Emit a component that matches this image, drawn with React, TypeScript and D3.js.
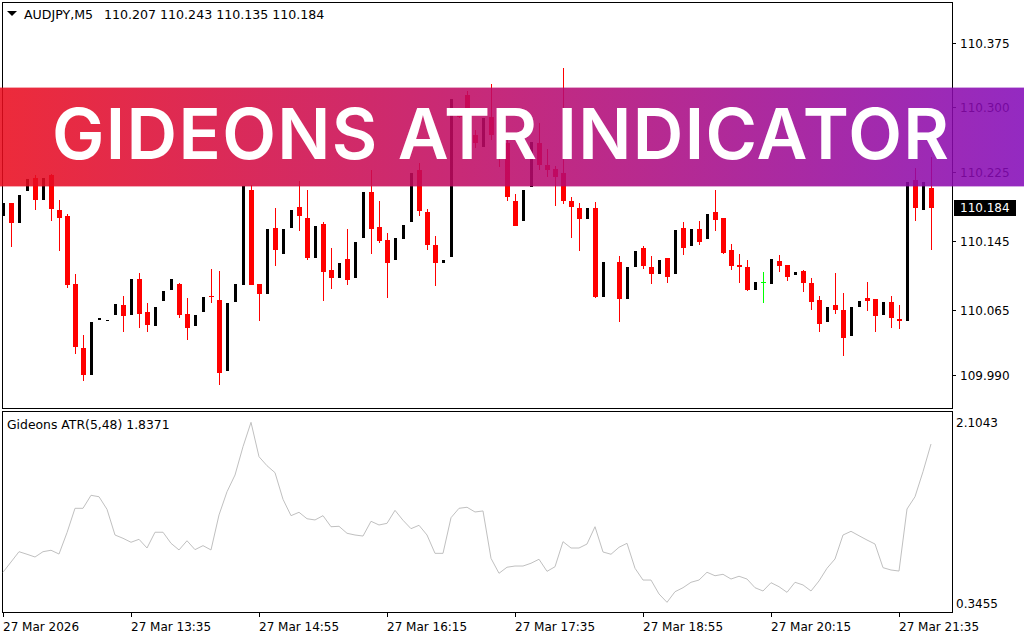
import * as d3 from "d3";

// chart header / labels
const symbolTitle = "AUDJPY,M5";
const indicatorTitle = "Gideons ATR(5,48)";
const atrLast = 1.8371;
const bannerText = "GIDEONS ATR INDICATOR";

const timeLabels = [
  "27 Mar 2026",
  "27 Mar 13:35",
  "27 Mar 14:55",
  "27 Mar 16:15",
  "27 Mar 17:35",
  "27 Mar 18:55",
  "27 Mar 20:15",
  "27 Mar 21:35",
];
const barsPerLabel = 16;
const priceTicks = [110.375, 110.3, 110.225, 110.145, 110.065, 109.99];
const atrTicks = [2.1043, 0.3455];

// OHLC, 5 minute bars (index 76 has no visible bar)
const opens = [
  110.174, 110.189, 110.166, 110.203, 110.218, 110.193, 110.222, 110.181, 110.174, 110.096,
  110.021, 109.99, 110.054, 110.053, 110.059, 110.071, 110.06, 110.101, 110.063, 110.047,
  110.076, 110.088, 110.095, 110.061, 110.047, 110.063, 110.082, 110.077, 109.995, 110.074,
  110.094, 110.204, 110.095, 110.084, 110.16, 110.13, 110.16, 110.185, 110.172, 110.126,
  110.165, 110.112, 110.102, 110.124, 110.102, 110.149, 110.202, 110.162, 110.146, 110.123,
  110.148, 110.167, 110.228, 110.179, 110.141, 110.12, 110.127, 110.295, 110.314, 110.268,
  110.254, 110.289, 110.254, 110.259, 110.192, 110.168, 110.208, 110.259, 110.233, 110.229,
  110.224, 110.192, 110.184, 110.171, 110.184, 110.08, null, 110.121, 110.078, 110.115,
  110.137, 110.115, 110.107, 110.126, 110.107, 110.16, 110.139, 110.159, 110.148, 110.179,
  110.172, 110.135, 110.117, 110.115, 110.089, 110.098, 110.095, 110.122, 110.117, 110.106,
  110.111, 110.097, 110.077, 110.051, 110.071, 110.065, 110.035, 110.069, 110.079, 110.078,
  110.06, 110.075, 110.055, 110.053, 110.216, 110.181, 110.207,
];
const highs = [
  110.189, 110.189, 110.199, 110.217, 110.222, 110.218, 110.223, 110.193, 110.176, 110.107,
  110.036, 110.051, 110.056, 110.054, 110.072, 110.082, 110.101, 110.108, 110.073, 110.069,
  110.087, 110.101, 110.097, 110.079, 110.06, 110.08, 110.113, 110.111, 110.073, 110.095,
  110.209, 110.21, 110.095, 110.159, 110.184, 110.159, 110.181, 110.215, 110.204, 110.163,
  110.167, 110.137, 110.12, 110.159, 110.144, 110.202, 110.228, 110.192, 110.155, 110.149,
  110.164, 110.224, 110.236, 110.182, 110.151, 110.123, 110.31, 110.297, 110.319, 110.274,
  110.288, 110.327, 110.262, 110.262, 110.2, 110.204, 110.26, 110.282, 110.252, 110.232,
  110.346, 110.196, 110.189, 110.184, 110.19, 110.121, null, 110.128, 110.115, 110.134,
  110.139, 110.128, 110.123, 110.126, 110.158, 110.167, 110.159, 110.168, 110.177, 110.204,
  110.172, 110.142, 110.13, 110.123, 110.098, 110.109, 110.124, 110.129, 110.117, 110.109,
  110.112, 110.102, 110.082, 110.069, 110.108, 110.085, 110.069, 110.076, 110.098, 110.078,
  110.075, 110.082, 110.071, 110.214, 110.23, 110.214, 110.243,
];
const lows = [
  110.174, 110.138, 110.166, 110.203, 110.181, 110.193, 110.169, 110.134, 110.091, 110.014,
  109.983, 109.99, 110.054, 110.053, 110.059, 110.04, 110.06, 110.044, 110.04, 110.047,
  110.076, 110.088, 110.056, 110.03, 110.047, 110.063, 110.073, 109.978, 109.995, 110.074,
  110.094, 110.094, 110.052, 110.084, 110.116, 110.13, 110.16, 110.157, 110.123, 110.126,
  110.076, 110.09, 110.102, 110.094, 110.102, 110.149, 110.13, 110.143, 110.079, 110.123,
  110.148, 110.167, 110.174, 110.135, 110.093, 110.12, 110.127, 110.288, 110.292, 110.253,
  110.254, 110.262, 110.231, 110.192, 110.163, 110.168, 110.208, 110.228, 110.219, 110.186,
  110.188, 110.149, 110.134, 110.171, 110.079, 110.08, null, 110.051, 110.078, 110.115,
  110.113, 110.095, 110.107, 110.097, 110.107, 110.129, 110.139, 110.141, 110.148, 110.157,
  110.13, 110.112, 110.097, 110.087, 110.089, 110.073, 110.095, 110.109, 110.099, 110.106,
  110.086, 110.065, 110.04, 110.051, 110.061, 110.012, 110.035, 110.069, 110.064, 110.04,
  110.06, 110.044, 110.043, 110.053, 110.168, 110.181, 110.135,
];
const closes = [
  110.189, 110.166, 110.199, 110.217, 110.193, 110.218, 110.182, 110.172, 110.094, 110.022,
  109.99, 110.051, 110.056, 110.054, 110.072, 110.058, 110.101, 110.061, 110.048, 110.069,
  110.087, 110.101, 110.059, 110.044, 110.06, 110.08, 110.081, 109.992, 110.073, 110.095,
  110.209, 110.094, 110.084, 110.159, 110.135, 110.159, 110.181, 110.174, 110.126, 110.163,
  110.109, 110.102, 110.12, 110.1, 110.144, 110.202, 110.159, 110.145, 110.12, 110.149,
  110.164, 110.224, 110.18, 110.141, 110.12, 110.123, 110.31, 110.289, 110.297, 110.259,
  110.288, 110.268, 110.245, 110.196, 110.163, 110.204, 110.26, 110.233, 110.228, 110.219,
  110.192, 110.185, 110.171, 110.184, 110.08, 110.121, null, 110.078, 110.115, 110.134,
  110.116, 110.107, 110.123, 110.104, 110.158, 110.137, 110.159, 110.144, 110.177, 110.17,
  110.131, 110.116, 110.115, 110.089, 110.098, 110.098, 110.124, 110.116, 110.104, 110.109,
  110.097, 110.075, 110.049, 110.069, 110.065, 110.033, 110.069, 110.076, 110.076, 110.058,
  110.075, 110.056, 110.053, 110.214, 110.184, 110.214, 110.184,
];

// Gideons ATR(5,48)
const atr = [
  0.639, 0.739, 0.84, 0.815, 0.788, 0.84, 0.854, 0.817, 1.026, 1.264,
  1.264, 1.391, 1.377, 1.254, 1.003, 0.971, 0.932, 0.961, 0.876, 1.03,
  1.03, 0.922, 0.857, 0.947, 0.86, 0.899, 0.857, 1.199, 1.426, 1.589,
  1.866, 2.104, 1.768, 1.68, 1.612, 1.352, 1.192, 1.225, 1.162, 1.15,
  1.192, 1.084, 1.088, 1.02, 1.003, 0.993, 1.137, 1.101, 1.117, 1.244,
  1.147, 1.065, 1.098, 1.003, 0.824, 0.824, 1.172, 1.264, 1.274, 1.228,
  1.238, 0.775, 0.629, 0.688, 0.7, 0.7, 0.727, 0.766, 0.648, 0.693,
  0.938, 0.876, 0.876, 0.915, 1.084, 0.837, 0.815, 0.883, 0.922, 0.678,
  0.563, 0.563, 0.427, 0.3455, 0.449, 0.488, 0.541, 0.563, 0.639, 0.605,
  0.619, 0.573, 0.6, 0.573, 0.488, 0.456, 0.537, 0.498, 0.443, 0.541,
  0.515, 0.456, 0.554, 0.678, 0.769, 1.003, 1.039, 0.996, 0.954, 0.915,
  0.684, 0.661, 0.651, 1.257, 1.377, 1.622, 1.892,
];

const FONT = "DejaVu Sans";

const App = () => {
  const width = 1024;
  const height = 640;
  const n = closes.length;
  const last = n - 1;

  const x = d3.scaleLinear().domain([0, last]).range([3, 3 + 8 * last]);
  const yPrice = d3.scaleLinear().domain([109.99, 110.375]).range([375, 42.7]);
  const yAtr = d3.scaleLinear().domain([0.3455, 2.1043]).range([602.3, 422.3]);
  const fmt = d3.format(".3f");

  const atrPath = d3
    .line<number>()
    .x((_, i) => x(i))
    .y((d) => yAtr(d))(atr);

  const candles = d3.range(n).map((i) => {
    const o = opens[i];
    const c = closes[i];
    const h = highs[i];
    const l = lows[i];
    if (o == null || c == null || h == null || l == null) return null;
    const xc = Math.round(x(i));
    const yo = Math.round(yPrice(o));
    const yc = Math.round(yPrice(c));
    const yh = Math.round(yPrice(h));
    const yl = Math.round(yPrice(l));
    if (o === c) {
      // doji, drawn in line colour
      return (
        <g key={i} fill="#00ff00">
          <rect x={xc} y={yh} width={1} height={Math.max(1, yl - yh)} />
          <rect x={xc - 2} y={yo} width={5} height={1} />
        </g>
      );
    }
    if (c > o) {
      return (
        <rect key={i} x={xc - 1} y={yc} width={3} height={Math.max(1, yo - yc)} fill="#000" />
      );
    }
    return (
      <g key={i} fill="#ff0000">
        <rect x={xc} y={yh} width={1} height={Math.max(1, yl - yh)} />
        <rect x={xc - 2} y={yo} width={5} height={Math.max(1, yc - yo)} />
      </g>
    );
  });

  const curY = Math.round(yPrice(closes[last] as number));

  return (
    <svg
      width={width}
      height={height}
      style={{ position: "absolute", left: 0, top: 0, background: "#fff" }}
      fontFamily={FONT}
      fontSize={12}
    >
      <defs>
        <linearGradient id="bannerGrad" x1="0" x2="1" y1="0" y2="0">
          <stop offset="0%" stopColor="#ea0b1d" />
          <stop offset="50%" stopColor="#bb0a6a" />
          <stop offset="100%" stopColor="#840ab8" />
        </linearGradient>
      </defs>

      {/* panels */}
      <rect x={2.5} y={2.5} width={950} height={406} fill="none" stroke="#000" />
      <rect x={2.5} y={411.5} width={950} height={201} fill="none" stroke="#000" />

      {/* header */}
      <path d="M7,11 L17,11 L12,16 Z" fill="#000" />
      <text x={24} y={18.5} fontSize={12.6}>
        {symbolTitle}
      </text>
      <text x={104} y={18.5} fontSize={12.6}>
        {[opens[last], highs[last], lows[last], closes[last]].map((v) => fmt(v as number)).join(" ")}
      </text>

      {/* candles */}
      <g shapeRendering="crispEdges">{candles}</g>

      {/* price axis */}
      {priceTicks.map((p) => {
        const yy = Math.round(yPrice(p)) + 0.5;
        return (
          <g key={p}>
            <line x1={952} x2={956} y1={yy} y2={yy} stroke="#000" />
            <text x={960} y={yy + 4}>
              {fmt(p)}
            </text>
          </g>
        );
      })}
      <rect x={954} y={curY - 8} width={62} height={16} fill="#000" />
      <text x={960} y={curY + 4} fill="#fff">
        {fmt(closes[last] as number)}
      </text>

      {/* ATR */}
      <path d={atrPath || ""} fill="none" stroke="#c0c0c0" strokeWidth={1} />
      <text x={7} y={428.5} fontSize={12.4}>
        {indicatorTitle} {atrLast.toFixed(4)}
      </text>
      {atrTicks.map((v, k) => (
        <text key={v} x={956} y={(k === 0 ? 422 : 603.5) + 4.5}>
          {v.toFixed(4)}
        </text>
      ))}

      {/* time axis */}
      {timeLabels.map((t, k) => {
        const xx = Math.round(x(k * barsPerLabel)) + 0.5;
        return (
          <g key={t}>
            <line x1={xx} x2={xx} y1={613} y2={617} stroke="#000" />
            <text x={xx - 0.5} y={631}>
              {t}
            </text>
          </g>
        );
      })}

      {/* banner */}
      <rect x={0} y={88} width={width} height={98} fill="url(#bannerGrad)" opacity={0.87} />
      <rect x={0} y={87} width={width} height={1} fill="url(#bannerGrad)" opacity={0.35} />
      <rect x={0} y={186} width={width} height={1} fill="url(#bannerGrad)" opacity={0.35} />
      <text
        x={52}
        y={158.5}
        fill="#fff"
        fontFamily="Inter"
        fontWeight={600}
        fontSize={70}
        textLength={897}
        lengthAdjust="spacing"
      >
        {bannerText}
      </text>
    </svg>
  );
};

export default App;
